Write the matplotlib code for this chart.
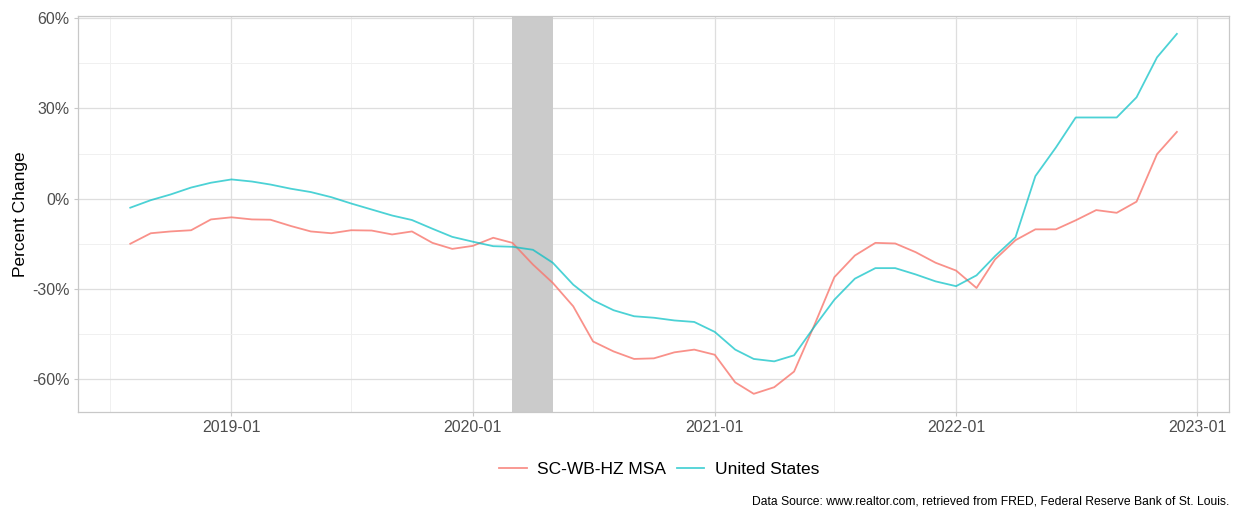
import matplotlib
matplotlib.use("Agg")
import matplotlib.pyplot as plt
import matplotlib.dates as mdates
from matplotlib.ticker import FuncFormatter, MultipleLocator
import pandas as pd

plt.rcParams['font.family'] = ['Liberation Sans', 'DejaVu Sans']

# monthly % change, 2018-08 .. 2022-12
dates = pd.date_range("2018-08-01", "2022-12-01", freq="MS")

msa = [-15.0, -11.5, -10.9, -10.5, -6.9,
       -6.2, -6.9, -7.0, -9.1, -10.9, -11.5, -10.5, -10.6, -11.9, -10.9, -14.7, -16.7,
       -15.7, -13.0, -14.7, -21.9, -28.0, -35.8, -47.5, -50.8, -53.3, -53.1, -51.1, -50.2,
       -51.9, -61.1, -64.9, -62.7, -57.5, -41.9, -26.1, -18.9, -14.7, -14.9, -17.8, -21.3,
       -23.9, -29.7, -20.2, -13.8, -10.2, -10.2, -7.2, -3.8, -4.7, -1.0, 14.8, 22.2]

usa = [-3.0, -0.5, 1.4, 3.7, 5.3,
       6.4, 5.7, 4.7, 3.3, 2.2, 0.5, -1.6, -3.6, -5.6, -7.1, -10.0, -12.7,
       -14.3, -15.8, -16.0, -17.0, -21.3, -28.6, -33.8, -37.1, -39.1, -39.6, -40.5, -41.0,
       -44.3, -50.2, -53.3, -54.1, -52.1, -42.5, -33.6, -26.6, -23.1, -23.1, -25.2, -27.5,
       -29.1, -25.5, -19.1, -12.8, 7.5, 17.0, 27.0, 27.0, 27.0, 33.7, 47.0, 54.8]

recession = ["2020-03-01", "2020-05-01"]
labels = ["SC-WB-HZ MSA", "United States"]
colors = ["#F8766D", "#00BFC4"]

fig = plt.figure(figsize=(12.39, 5.11), dpi=100)
ax = fig.add_axes([0.063, 0.194, 0.929, 0.775])

ax.axvspan(pd.Timestamp(recession[0]), pd.Timestamp(recession[1]),
           color="#CBCBCB", lw=0, zorder=1)

ax.plot(dates, msa, color=colors[0], lw=1.3, alpha=0.8, label=labels[0], zorder=3)
ax.plot(dates, usa, color=colors[1], lw=1.3, alpha=0.7, label=labels[1], zorder=3)

ax.set_xlim(pd.Timestamp("2018-05-14"), pd.Timestamp("2023-02-18"))
ax.set_ylim(-70.9, 60.8)

ax.xaxis.set_major_locator(mdates.YearLocator())
ax.xaxis.set_major_formatter(mdates.DateFormatter("%Y-%m"))
ax.xaxis.set_minor_locator(mdates.MonthLocator(bymonth=7))
ax.yaxis.set_major_locator(MultipleLocator(30))
ax.yaxis.set_minor_locator(MultipleLocator(15))
ax.yaxis.set_major_formatter(FuncFormatter(lambda v, p: f"{v:.0f}%"))

ax.grid(which="major", color="#DEDEDE", lw=0.9, zorder=0)
ax.grid(which="minor", color="#F0F0F0", lw=0.7, zorder=0)
ax.set_axisbelow(True)

for s in ax.spines.values():
    s.set_color("#C8C8C8")
    s.set_linewidth(0.9)

ax.tick_params(which="major", length=3, color="#C8C8C8", labelsize=11.5,
               labelcolor="#4D4D4D", pad=3)
ax.tick_params(which="minor", length=0)

ax.set_ylabel("Percent Change", fontsize=12.5, color="black", labelpad=3)

fig.legend(loc="center", bbox_to_anchor=(0.532, 0.081), ncol=2, frameon=False,
           fontsize=12.5, handlelength=1.6, handletextpad=0.6, columnspacing=0.6)

fig.text(0.992, 0.006, "Data Source: www.realtor.com, retrieved from FRED, Federal Reserve Bank of St. Louis.",
         ha="right", va="bottom", fontsize=8.7, color="black")

fig.savefig("out.png", dpi=100)
